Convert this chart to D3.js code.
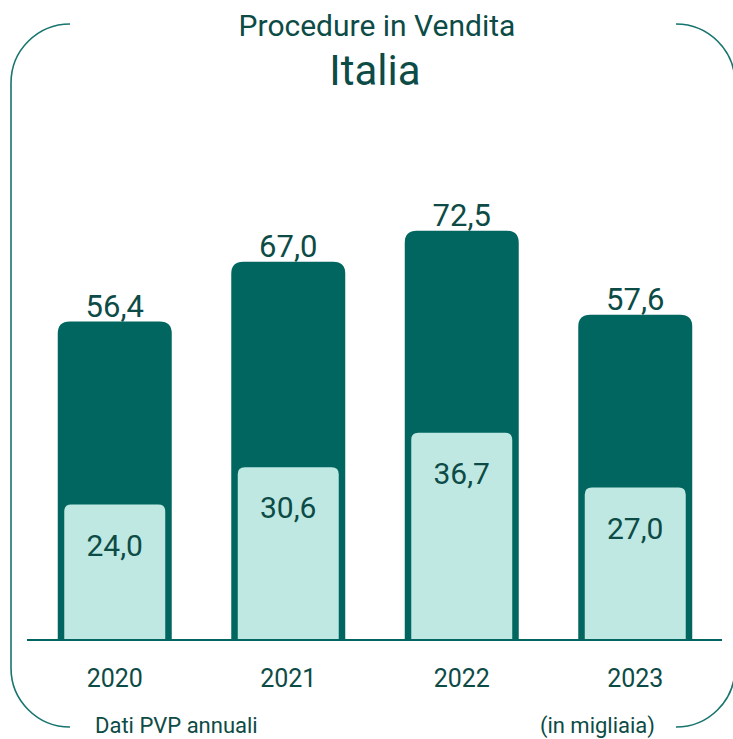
<!DOCTYPE html>
<html><head><meta charset="utf-8">
<script src="https://cdn.jsdelivr.net/npm/d3@7"></script>
<style>
html,body{margin:0;padding:0;background:#fff;}
svg{display:block;}
text{font-family:Roboto,"Noto Sans",sans-serif;}
</style></head>
<body>
<svg id="chart" width="733" height="739"></svg>
<script>
const years = ["2020", "2021", "2022", "2023"];
const totalValues = [56.4, 67.0, 72.5, 57.6];
const innerValues = [24.0, 30.6, 36.7, 27.0];
const titleLine1 = "Procedure in Vendita";
const titleLine2 = "Italia";
const footLeft = "Dati PVP annuali";
const footRight = "(in migliaia)";

const W = 733, H = 739;
const svg = d3.select("#chart");
const textColor = "#0d4b46";
const dark = "#00665f";
const light = "#bfe8e3";
const borderColor = "#17746e";

const fmt = v => d3.format(".1f")(v).replace(".", ",");

const x = d3.scaleBand().domain(years).range([28, 722]).paddingInner(0.343).paddingOuter(0.1715);
const y = d3.scaleLinear().domain([0, 80]).range([640, 188.4]);

function topRounded(x0, y0, w, h, r) {
  r = Math.min(r, w / 2, h);
  return `M${x0},${y0 + h}V${y0 + r}Q${x0},${y0} ${x0 + r},${y0}H${x0 + w - r}Q${x0 + w},${y0} ${x0 + w},${y0 + r}V${y0 + h}Z`;
}

// border frame (rounded rect with gaps top & bottom)
const bx0 = 11, bx1 = 735, by0 = 24, by1 = 727, R = 59;
const frame = d3.path();
frame.moveTo(bx0 + R, by0);
frame.arcTo(bx0, by0, bx0, by0 + R, R);
frame.lineTo(bx0, by1 - R);
frame.arcTo(bx0, by1, bx0 + R, by1, R);
frame.moveTo(bx1 - R, by0);
frame.arcTo(bx1, by0, bx1, by0 + R, R);
frame.lineTo(bx1, by1 - R);
frame.arcTo(bx1, by1, bx1 - R, by1, R);
svg.append("path").attr("d", frame.toString()).attr("fill", "none")
  .attr("stroke", borderColor).attr("stroke-width", 1.6);

// titles
svg.append("text").attr("x", 377).attr("y", 35.5).attr("text-anchor", "middle")
  .attr("font-size", 30).attr("fill", textColor).text(titleLine1);
svg.append("text").attr("x", 375).attr("y", 85).attr("text-anchor", "middle")
  .attr("font-size", 42).attr("fill", textColor).text(titleLine2);

const data = years.map((yr, i) => ({ yr, total: totalValues[i], inner: innerValues[i] }));

const g = svg.append("g");
g.selectAll("path.outer").data(data).join("path").attr("class", "outer")
  .attr("d", d => topRounded(x(d.yr), y(d.total), x.bandwidth(), y(0) - y(d.total), 12))
  .attr("fill", dark);

const inset = 6.5;
g.selectAll("path.inner").data(data).join("path").attr("class", "inner")
  .attr("d", d => topRounded(x(d.yr) + inset, y(d.inner), x.bandwidth() - 2 * inset, y(0) - y(d.inner), 7))
  .attr("fill", light);

g.selectAll("text.tot").data(data).join("text").attr("class", "tot")
  .attr("x", d => x(d.yr) + x.bandwidth() / 2).attr("y", d => y(d.total) - 5)
  .attr("text-anchor", "middle").attr("font-size", 31).attr("fill", textColor)
  .text(d => fmt(d.total));

g.selectAll("text.inn").data(data).join("text").attr("class", "inn")
  .attr("x", d => x(d.yr) + x.bandwidth() / 2).attr("y", d => y(d.inner) + 51)
  .attr("text-anchor", "middle").attr("font-size", 30).attr("fill", textColor)
  .text(d => fmt(d.inner));

// x axis
const axis = svg.append("g").attr("transform", "translate(0,640)")
  .call(d3.axisBottom(x).tickSize(0).tickPadding(0));
axis.select(".domain").attr("d", "M27,0H722").attr("stroke", dark).attr("stroke-width", 2);
axis.selectAll(".tick text").attr("font-size", 25).attr("fill", textColor)
  .attr("font-family", "Roboto").attr("dy", null).attr("y", 47);

// footer
svg.append("text").attr("x", 95).attr("y", 733).attr("font-size", 22).attr("fill", textColor).text(footLeft);
svg.append("text").attr("x", 655).attr("y", 733).attr("text-anchor", "end").attr("font-size", 22).attr("fill", textColor).text(footRight);
</script>
</body></html>
